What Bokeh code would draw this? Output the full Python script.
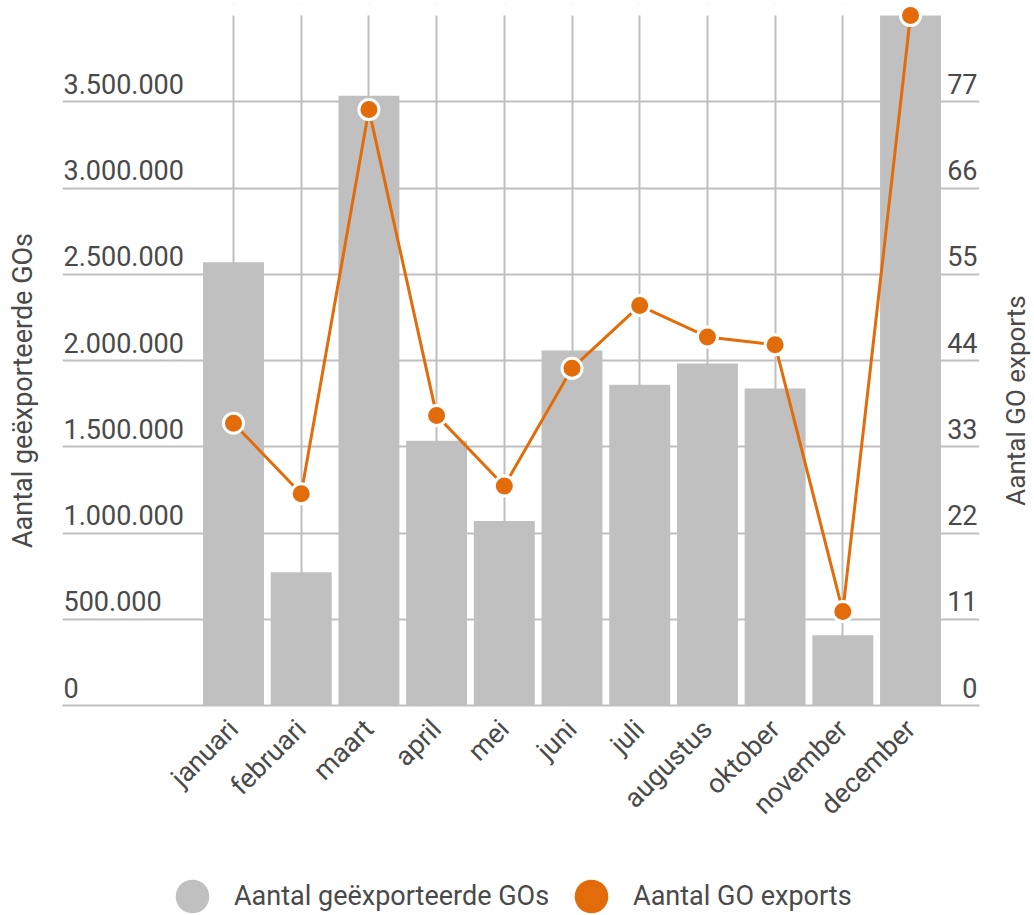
import math
from bokeh.plotting import figure
from bokeh.layouts import column, row
from bokeh.models import (Range1d, FixedTicker, ColumnDataSource, Legend, Label,
                          LegendItem, BoxAnnotation)
from bokeh.core.properties import value
from bokeh.embed import file_html
from bokeh.resources import INLINE

# ---------------- data ----------------
months = ["januari", "februari", "maart", "april", "mei", "juni", "juli",
          "augustus", "oktober", "november", "december"]
gos_exported = [2570000, 773000, 3535000, 1535000, 1070000, 2058000, 1860000,
                1983000, 1837000, 407000, 4000000]
go_exports = [36, 27, 76, 37, 28, 43, 51, 47, 46, 12, 88]

left_ticks = [0, 500000, 1000000, 1500000, 2000000, 2500000, 3000000, 3500000]
left_tick_labels = ["0", "500.000", "1.000.000", "1.500.000", "2.000.000",
                    "2.500.000", "3.000.000", "3.500.000"]
right_ticks = [0, 11, 22, 33, 44, 55, 66, 77]
right_tick_labels = ["0", "11", "22", "33", "44", "55", "66", "77"]

left_title = "Aantal geëxporteerde GOs"
right_title = "Aantal GO exports"
series_names = ["Aantal geëxporteerde GOs", "Aantal GO exports"]

left_max = 4000000
right_max = 88

# ---------------- style ----------------
BAR = "#c0c0c0"
ORANGE = "#e36c0a"
GRID = "#bfbfbf"
TXT = "#4a4a4a"
FONT = "Roboto"
FS = "27px"

W = 1034
H1, H2 = 860, 55
LW, RW = 40, 50                    # title strips
MW = W - LW - RW                   # main figure width
frame_top, frame_bottom = 3, 705
frame_left, frame_right = 62, 979  # page coordinates
frame_h = frame_bottom - frame_top
scale_h = 690.0  # pixel height between 0 and the max value
x_start, x_end = -2.526, 11.019


def strip(width, height):
    f = figure(width=width, height=height, output_backend="svg", toolbar_location=None,
               x_range=Range1d(0, 1), y_range=Range1d(0, 1),
               x_axis_location=None, y_axis_location=None, min_border=0)
    f.outline_line_color = None
    f.xgrid.visible = False
    f.ygrid.visible = False
    return f


p = figure(width=MW, height=H1, output_backend="svg", toolbar_location=None,
           x_range=Range1d(x_start, x_end),
           y_range=Range1d(0, left_max * frame_h / scale_h),
           y_axis_location=None,
           min_border_left=frame_left - LW, min_border_right=(W - RW) - frame_right,
           min_border_top=frame_top, min_border_bottom=H1 - frame_bottom)
p.extra_y_ranges = {"right": Range1d(0, right_max * frame_h / scale_h)}
p.outline_line_color = None
p.background_fill_color = "white"

xs = list(range(len(months)))

# grids
for g in p.xgrid:
    g.ticker = FixedTicker(ticks=xs)
    g.grid_line_color = GRID
    g.grid_line_width = 2
for g in p.ygrid:
    g.ticker = FixedTicker(ticks=left_ticks)
    g.grid_line_color = GRID
    g.grid_line_width = 2

# hide gridlines above the value scale top
p.add_layout(BoxAnnotation(bottom=left_max, fill_color="white", fill_alpha=1.0,
                           line_color=None, level="underlay"))

# x axis
ax = p.xaxis[0]
ax.ticker = FixedTicker(ticks=xs)
ax.major_label_overrides = {i: m for i, m in enumerate(months)}
ax.major_label_orientation = math.pi / 4
ax.major_tick_line_color = None
ax.minor_tick_line_color = None
ax.axis_line_color = GRID
ax.axis_line_width = 2
ax.major_label_text_font = FONT
ax.major_label_text_font_size = FS
ax.major_label_text_color = TXT
ax.major_label_standoff = 13

src = ColumnDataSource(dict(x=xs, gos=gos_exported, exp=go_exports))

p.vbar(x="x", top="gos", width=0.9, source=src, fill_color=BAR, line_color=None)
p.line(x="x", y="exp", source=src, y_range_name="right", line_color=ORANGE, line_width=3)
p.scatter(x="x", y="exp", source=src, y_range_name="right", marker="circle", size=20,
          fill_color=ORANGE, line_color="white", line_width=3)

# tick labels inside the plot area
p.text(x=[x_start] * len(left_ticks), y=left_ticks, text=left_tick_labels,
       text_font=value(FONT), text_font_size=value(FS), text_color=TXT,
       text_align="left", text_baseline="middle", x_offset=1, y_offset=-18)
p.text(x=[x_end] * len(right_ticks), y=right_ticks, text=right_tick_labels,
       y_range_name="right",
       text_font=value(FONT), text_font_size=value(FS), text_color=TXT,
       text_align="right", text_baseline="middle", x_offset=-2, y_offset=-18)

# ---------------- axis title strips ----------------
# (strip frames are aligned with the main frame, so y is measured from its bottom)
ls = strip(LW, H1)
ls.add_layout(Label(x=22, y=frame_bottom - 390, x_units="screen", y_units="screen",
                    text=left_title, angle=math.pi / 2, text_align="center",
                    text_baseline="middle", text_font=FONT, text_font_size=FS,
                    text_color=TXT))
rs = strip(RW, H1)
rs.add_layout(Label(x=1015 - (W - RW), y=frame_bottom - 400, x_units="screen",
                    y_units="screen", text=right_title, angle=math.pi / 2,
                    text_align="center", text_baseline="middle", text_font=FONT,
                    text_font_size="26px", text_color=TXT))

# ---------------- legend strip ----------------
lg = strip(W, H2)
nan = float("nan")
r1 = lg.scatter(x=[nan], y=[nan], marker="circle", fill_color=BAR, line_color=None)
r2 = lg.scatter(x=[nan], y=[nan], marker="circle", fill_color=ORANGE, line_color=None)
legend = Legend(items=[LegendItem(label=series_names[0], renderers=[r1]),
                       LegendItem(label=series_names[1], renderers=[r2])],
                location=(150, -23), orientation="horizontal",
                glyph_width=84, glyph_height=84, label_standoff=0, spacing=0,
                padding=0, margin=0, border_line_color=None, background_fill_alpha=0,
                label_text_font=FONT, label_text_font_size=FS, label_text_color=TXT)
lg.add_layout(legend, "center")

layout = column(row(ls, p, rs, spacing=0), lg, spacing=0)
open("out.html", "w").write(file_html(layout, INLINE))
